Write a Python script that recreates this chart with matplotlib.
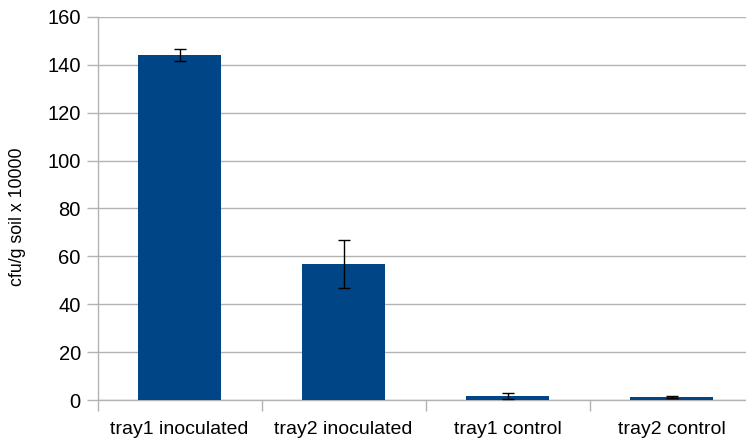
import matplotlib
matplotlib.use("Agg")
import matplotlib.pyplot as plt
import numpy as np

categories = ["tray1 inoculated", "tray2 inoculated", "tray1 control", "tray2 control"]
values = [144.1, 56.8, 1.7, 1.2]
errors = [2.6, 10.0, 1.2, 0.3]
yticks = [0, 20, 40, 60, 80, 100, 120, 140, 160]

plt.rcParams['font.family'] = ['Liberation Sans', 'DejaVu Sans']

fig = plt.figure(figsize=(7.46, 4.41), dpi=100)
left_px, right_px, top_px, bottom_px = 97.5, 754, 17, 400
ax = fig.add_axes([left_px/746, 1 - bottom_px/441, (right_px - left_px)/746, (bottom_px - top_px)/441])

x = np.arange(len(categories))
ax.bar(x, values, width=0.505, color="#004586", zorder=3)
ax.errorbar(x, values, yerr=errors, fmt="none", ecolor="black", elinewidth=1,
            capsize=4.5, capthick=1, zorder=4)

ax.set_xlim(-0.5, len(categories) - 0.5)
ax.set_ylim(0, 160)
ax.set_yticks(yticks)
ax.set_yticklabels([str(t) for t in yticks], fontsize=14.5)
ax.yaxis.grid(True, color="#b3b3b3", linewidth=1, zorder=0)
ax.set_axisbelow(True)

ax.set_xticks(x)
ax.set_xticklabels(categories, fontsize=14)
ax.tick_params(axis="x", length=0, pad=15)
ax.set_xticks(np.arange(-0.5, len(categories)), minor=True)
ax.tick_params(axis="x", which="minor", length=8, color="#b3b3b3", width=1)
ax.tick_params(axis="y", length=8, color="#b3b3b3", width=1, pad=4)

for side in ["top", "right"]:
    ax.spines[side].set_visible(False)
for side in ["left", "bottom"]:
    ax.spines[side].set_color("#b3b3b3")
    ax.spines[side].set_linewidth(1)

ax.set_ylabel("cfu/g soil x 10000", fontsize=12.8)
ax.yaxis.set_label_coords(-(left_px - 26) / (right_px - left_px), (400 - 217) / 383)

fig.savefig("out.png", dpi=100, facecolor="white")
